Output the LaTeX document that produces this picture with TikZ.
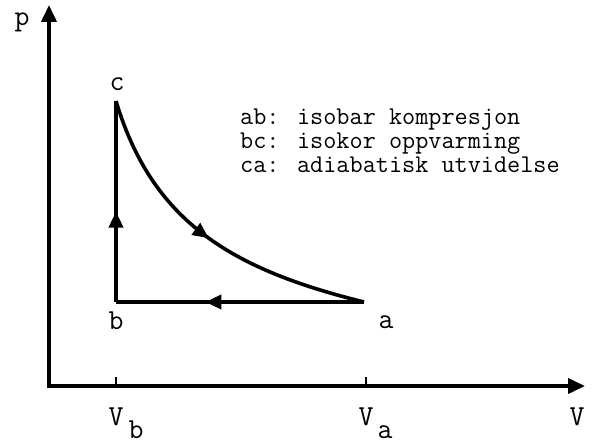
\documentclass[tikz,border=0pt]{standalone}
\usetikzlibrary{arrows.meta,decorations.markings,positioning}
\tikzstyle{axis} = [line width=3.8pt, line join=miter,
{Triangle[length=17pt,width=15pt]}-{Triangle[length=17pt,width=15pt]}]
\tikzstyle{proc} = [line width=3.6pt, line join=miter]
\tikzstyle{tick} = [line width=2pt]
\tikzstyle{lbl} = [inner sep=0pt, font=\ttfamily\fontsize{29}{29}\selectfont]
\tikzset{midarrow/.style={postaction={decorate},
  decoration={markings, mark=at position #1 with {\arrow{Triangle[length=16pt,width=14pt]}}}}}

\begin{document}
\begin{tikzpicture}[x=1pt,y=-1pt]
            \useasboundingbox (0,0) rectangle (597,443);
            % axes
            \coordinate (O) at (49,386);
            \coordinate (ptop) at (49,5);
            \coordinate (Vend) at (585,386);
            \draw [axis] (ptop) -- (O) -- (Vend);
            \coordinate (Vb) at (116,386);
            \coordinate (Va) at (366,386);
            \draw [tick] (Vb) -- ++(0,-9);
            \draw [tick] (Va) -- ++(0,-9);
            % states of the cycle
            \coordinate (a) at (364,302);
            \coordinate (b) at (116,302);
            \coordinate (c) at (116,101);
            \draw [proc, midarrow=0.64] (a) -- (b);
            \draw [proc, midarrow=0.45] (b) -- (c);
            \draw [proc, midarrow=0.5] (c) .. controls +(36,120) and +(-134,-33) .. (a);
            % labels
            \node [lbl] (pl) at (22,22) {p};
            \node [lbl] (cl) at (117,84) {c};
            \node [lbl] (bl) at (116,321) {b};
            \node [lbl] (al) at (386,322) {a};
            \node [lbl] (Vl) at (577,417) {V};
            \node [lbl, anchor=base] (Vbl) at (116,425) {V};
            \node [lbl, anchor=base] (Vbs) at (136,438) {b};
            \node [lbl, anchor=base] (Val) at (366,425) {V};
            \node [lbl, anchor=base] (Vas) at (385,438) {a};
            \node [anchor=north west, inner sep=0pt, align=left,
            font=\ttfamily\fontsize{25.5}{24}\selectfont] (legend) at (240,109)
            {ab: isobar kompresjon\\bc: isokor oppvarming\\ca: adiabatisk utvidelse};
        \end{tikzpicture}
\end{document}
